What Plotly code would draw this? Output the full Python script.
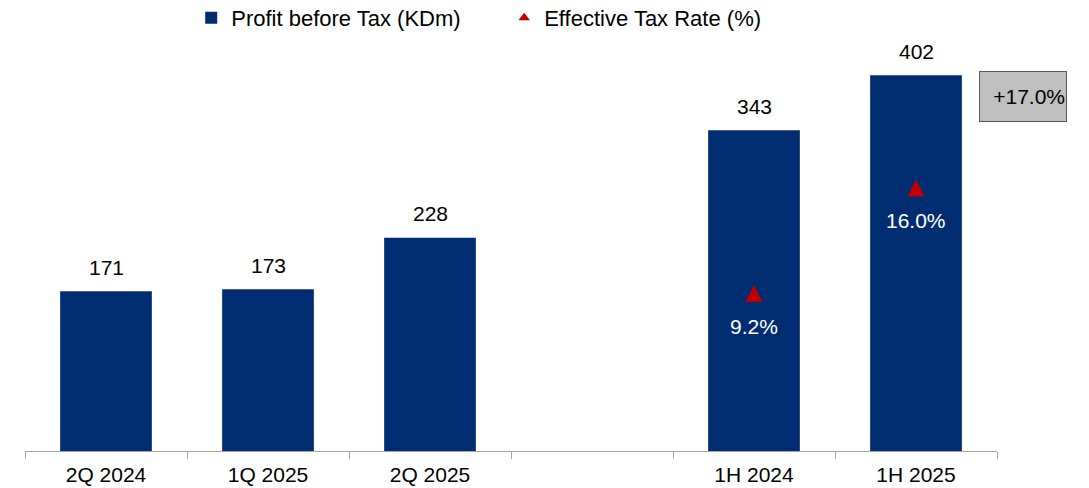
import plotly.graph_objects as go

# Periods shown on the category axis (the blank slot separates quarters from half-years)
categories = ["2Q 2024", "1Q 2025", "2Q 2025", " ", "1H 2024", "1H 2025"]
profit_before_tax = [171, 173, 228, None, 343, 402]

# Effective tax rate, reported for the half-year periods only
etr_periods = ["1H 2024", "1H 2025"]
effective_tax_rate = [9.2, 16.0]

growth_label = "+17.0%"

NAVY = "#002D72"
RED = "#C00000"
AXIS_GREY = "#A6A6A6"
FONT = "Liberation Sans, Arial, sans-serif"

fig = go.Figure()

fig.add_trace(go.Bar(
    x=categories,
    y=profit_before_tax,
    name="Profit before Tax (KDm)",
    marker=dict(color=NAVY, line=dict(width=0)),
    legend="legend",
    hoverinfo="skip",
))

fig.add_trace(go.Scatter(
    x=etr_periods,
    y=effective_tax_rate,
    yaxis="y2",
    mode="markers",
    marker=dict(symbol="arrow-up", size=17, color=RED, line=dict(width=0)),
    showlegend=False,
    hoverinfo="skip",
))

# legend entry for the tax-rate markers
fig.add_trace(go.Scatter(
    x=[None],
    y=[None],
    yaxis="y2",
    mode="markers",
    name="Effective Tax Rate (%)",
    marker=dict(symbol="triangle-up", size=10, color=RED, line=dict(width=0)),
    legend="legend2",
    hoverinfo="skip",
))

annotations = []
for cat, val in zip(categories, profit_before_tax):
    if val is None:
        continue
    annotations.append(dict(
        x=cat, y=val, xref="x", yref="y",
        text=str(val), showarrow=False,
        yanchor="middle", yshift=24,
        font=dict(family=FONT, size=21, color="#000000"),
    ))

for cat, val in zip(etr_periods, effective_tax_rate):
    annotations.append(dict(
        x=cat, y=val, xref="x", yref="y2",
        text=f"{val:.1f}%", showarrow=False,
        yanchor="middle", yshift=-41,
        font=dict(family=FONT, size=21, color="#FFFFFF"),
    ))

annotations.append(dict(
    x=1.0267, y=0.8637, xref="paper", yref="paper",
    text=growth_label, showarrow=False,
    xanchor="center", yanchor="middle",
    width=84, height=47, align="right", valign="middle",
    bgcolor="#BFBFBF", bordercolor="#595959", borderwidth=1, borderpad=1,
    font=dict(family=FONT, size=21, color="#000000"),
))

legend_common = dict(
    orientation="h", yref="container", y=0.963, yanchor="middle",
    xanchor="left",
    font=dict(family=FONT, size=22, color="#000000"),
    bgcolor="rgba(0,0,0,0)", itemwidth=30,
)

fig.update_layout(
    width=1089,
    height=488,
    margin=dict(l=25, r=92, t=40, b=37, autoexpand=False),
    paper_bgcolor="#FFFFFF",
    plot_bgcolor="#FFFFFF",
    font=dict(family=FONT, size=21, color="#000000"),
    bargap=0.434,
    showlegend=True,
    legend=dict(x=0.171, **legend_common),
    legend2=dict(x=0.493, **legend_common),
    xaxis=dict(
        type="category",
        categoryorder="array",
        categoryarray=categories,
        showline=True, linecolor=AXIS_GREY, linewidth=1.3,
        ticks="outside", tickson="boundaries", ticklen=7,
        tickcolor=AXIS_GREY, tickwidth=1.3,
        showgrid=False, zeroline=False, automargin=False,
        ticklabelstandoff=5,
        tickfont=dict(family=FONT, size=21, color="#000000"),
    ),
    yaxis=dict(
        range=[0, 439.6], visible=False, showgrid=False, zeroline=False,
    ),
    yaxis2=dict(
        range=[-1.48, 24.97], overlaying="y", visible=False,
        showgrid=False, zeroline=False,
    ),
    annotations=annotations,
)

fig.write_html("out.html")
